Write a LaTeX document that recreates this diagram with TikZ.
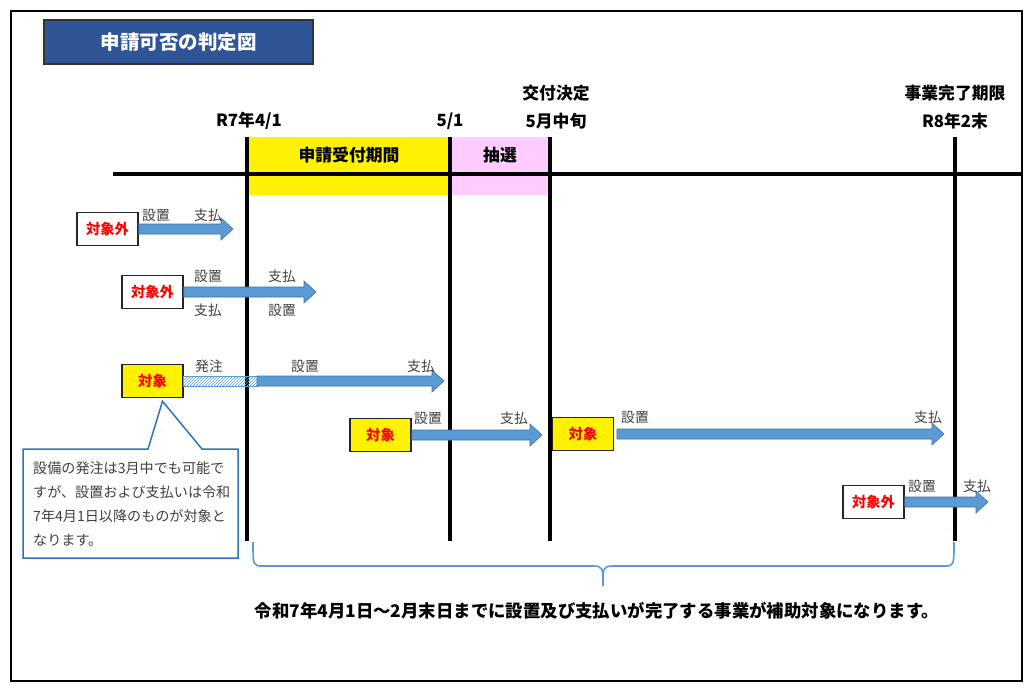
\documentclass[tikz,border=0pt]{standalone}
\usepackage{fontspec}
\setmainfont{Noto Sans CJK JP}
\usetikzlibrary{calc,patterns}
\definecolor{titleblue}{RGB}{47,85,151}
\definecolor{pinkbg}{RGB}{255,204,255}
\definecolor{arrowblue}{RGB}{91,155,213}
\definecolor{arrowedge}{RGB}{65,113,156}
\definecolor{noteblue}{RGB}{46,117,182}
\definecolor{labelgray}{RGB}{64,64,64}
\tikzset{
  frame/.style={draw=black, line width=2pt},
  timeline/.style={draw=black, line width=4pt},
  toplabel/.style={font=\fontsize{16.8}{18}\selectfont\bfseries, inner sep=0pt},
  outbox/.style={draw=black!85, line width=1.5pt, fill=white, minimum width=61pt, minimum height=33pt, inner sep=0pt, text=red, font=\fontsize{14.3}{16}\selectfont\bfseries},
  inbox/.style={outbox, fill=yellow},
  steplabel/.style={text=labelgray, font=\fontsize{13.8}{15}\selectfont, inner sep=0pt},
  fatarrow/.style={fill=arrowblue, draw=arrowedge, line width=0.6pt},
}
\newcommand\fatarr[2]{%
  \filldraw[fatarrow] ($(#1)+(0,-5)$) -- ($(#2)+(-12,-5)$) -- ($(#2)+(-12,-11)$) -- (#2)
    -- ($(#2)+(-12,11)$) -- ($(#2)+(-12,5)$) -- ($(#1)+(0,5)$) -- cycle;}
\begin{document}
\begin{tikzpicture}[x=1pt,y=-1pt]
\useasboundingbox (0,0) rectangle (1030,693);
\fill[white] (0,0) rectangle (1030,693);
\draw[frame] (11,11) rectangle (1022,681);
% title
\node[draw=black!80, line width=1.2pt, fill=titleblue, minimum width=269pt, minimum height=44pt, text=white,
      font=\fontsize{19.5}{21}\selectfont\bfseries] (title) at (178.5,42) {申請可否の判定図};
% period boxes
\fill[yellow] (247,137) rectangle (450,195);
\fill[pinkbg] (450,137) rectangle (550,195);
\node[toplabel] (uketsuke) at (349,155) {申請受付期間};
\node[toplabel] (chusen) at (500,155) {抽選};
% timeline
\coordinate (tlL) at (113,174);
\coordinate (tlR) at (1022,174);
\draw[timeline] (tlL) -- (tlR);
\foreach \n/\x in {a/247,b/450,c/550,d/955}{
  \coordinate (v\n t) at (\x,137);
  \coordinate (v\n b) at (\x,541);
  \draw[timeline] (v\n t) -- (v\n b);
}
% top labels
\node[toplabel] (l1) at (249,121) {R7年4/1};
\node[toplabel] (l2) at (450,121) {5/1};
\node[toplabel] (l3a) at (556,93) {交付決定};
\node[toplabel] (l3b) at (556,121) {5月中旬};
\node[toplabel] (l4a) at (955,93) {事業完了期限};
\node[toplabel] (l4b) at (955,121) {R8年2末};
% row 1
\node[outbox] (b1) at (107.5,229) {対象外};
\coordinate (e1) at (233,229);
\fatarr{b1.east}{e1}
\node[steplabel] (s1a) at (156,215) {設置};
\node[steplabel] (s1b) at (208,215) {支払};
% row 2
\node[outbox] (b2) at (152.5,292) {対象外};
\coordinate (e2) at (316,292);
\fatarr{b2.east}{e2}
\node[steplabel] (s2a) at (208,276) {設置};
\node[steplabel] (s2b) at (282,276) {支払};
\node[steplabel] (s2c) at (208,310) {支払};
\node[steplabel] (s2d) at (282,310) {設置};
% row 3
\node[inbox] (b3) at (152.5,381) {対象};
\coordinate (h3) at (257,381);
\coordinate (e3) at (444,381);
\draw[draw=arrowblue, line width=0.8pt, pattern=north east lines, pattern color=arrowblue]
  ($(b3.east)+(0,-5)$) rectangle ($(h3)+(0,5)$);
\fatarr{h3}{e3}
\node[steplabel] (s3a) at (209,366) {発注};
\node[steplabel] (s3b) at (305,366) {設置};
\node[steplabel] (s3c) at (421,366) {支払};
% row 4
\node[inbox] (b4) at (380.5,435) {対象};
\coordinate (e4) at (542,435);
\fatarr{b4.east}{e4}
\node[steplabel] (s4a) at (428,418) {設置};
\node[steplabel] (s4b) at (514,418) {支払};
% row 5
\node[inbox] (b5) at (583,434) {対象};
\coordinate (f5) at (617,434);
\coordinate (e5) at (944,434);
\fatarr{f5}{e5}
\node[steplabel] (s5a) at (635,417) {設置};
\node[steplabel] (s5b) at (928,417) {支払};
% row 6
\node[outbox] (b6) at (873.5,502) {対象外};
\coordinate (e6) at (988,502);
\fatarr{b6.east}{e6}
\node[steplabel] (s6a) at (922,486) {設置};
\node[steplabel] (s6b) at (977,486) {支払};
% callout
\coordinate (tip) at ($(b3.south)+(10,3)$);
\filldraw[draw=noteblue, fill=white, line width=1.5pt, line join=miter]
  (23,449) -- (148,449) -- (tip) -- (202,449) -- (238,449) -- (238,558) -- (23,558) -- cycle;
\node[anchor=north west, align=left, inner sep=0pt, text=labelgray, font=\fontsize{14.1}{24.3}\selectfont] (note) at (33,461)
  {設備の発注は3月中でも可能で\\すが、設置および支払いは令和\\7年4月1日以降のものが対象と\\なります。};
% brace
\coordinate (brL) at (253,542);
\coordinate (brR) at (954,542);
\coordinate (brT) at (603,586);
\draw[draw=arrowblue, line width=1.6pt]
  (brL) .. controls (253,566) and (253,566) .. (263,566) -- (593,566)
  .. controls (603,566) and (603,568) .. (brT)
  .. controls (603,568) and (603,566) .. (613,566) -- (944,566)
  .. controls (954,566) and (954,566) .. (brR);
\node[font=\fontsize{17.4}{19}\selectfont\bfseries, inner sep=0pt] (summary) at (597,611)
  {令和7年4月1日～2月末日までに設置及び支払いが完了する事業が補助対象になります。};
\end{tikzpicture}
\end{document}
